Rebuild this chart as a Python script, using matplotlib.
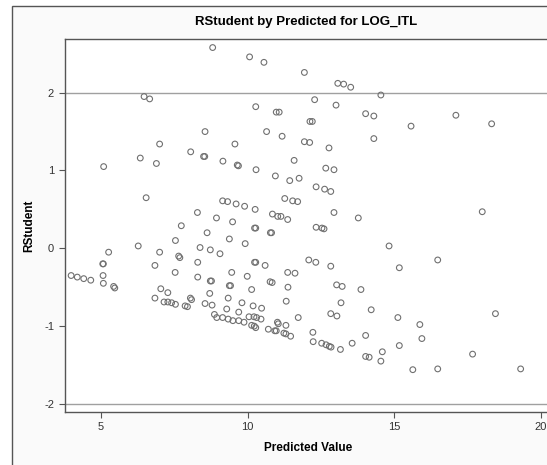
import matplotlib

matplotlib.use("Agg")
import matplotlib.pyplot as plt
from matplotlib.patches import Rectangle

plt.rcParams["font.family"] = ["Liberation Sans Narrow", "Liberation Sans", "DejaVu Sans"]

# predicted value / rstudent pairs
predicted = [
    8.81, 6.47, 6.66, 8.55, 7.00, 8.06, 8.50, 8.54, 6.34, 6.89, 5.09,
    10.07, 10.56, 11.94, 13.08, 13.28, 13.52, 14.55, 12.29, 10.28, 13.02,
    10.98, 11.08, 14.03, 14.31, 12.13, 12.21, 10.65, 11.18, 9.57, 11.94,
    12.12, 12.78, 14.31, 9.16, 9.65, 9.69, 10.29, 11.59, 12.67, 12.95,
    15.58, 17.11, 18.33,
    6.54, 8.29, 8.94, 7.74, 8.62, 7.54, 5.26, 6.27, 7.00, 8.38, 8.73, 9.06,
    7.65, 7.69, 5.06, 5.08, 6.84, 8.30, 7.53, 8.30, 5.07, 3.98, 4.19, 4.41,
    4.65, 5.08, 5.43, 5.47, 8.73, 8.77, 7.04,
    10.95, 11.44, 11.76, 12.34, 12.63, 12.84, 11.27, 11.54, 11.71, 9.15,
    9.32, 9.61, 9.90, 10.26, 10.85, 11.03, 11.14, 11.37, 12.95, 13.78, 9.49,
    10.24, 10.28, 10.78, 10.82, 12.34, 12.54, 12.61, 9.38, 9.92, 10.24,
    10.28, 10.60, 12.09, 12.33, 12.84, 9.46, 9.99, 11.37, 11.62, 9.38, 9.42,
    10.14, 10.77, 10.84, 11.38, 13.04, 13.23, 13.87,
    18.01, 14.83, 15.18, 16.49,
    7.28, 6.84, 7.15, 7.28, 7.41, 7.54, 7.87, 7.95, 8.05, 8.09, 8.71, 8.55,
    8.79, 8.87, 8.95,
    11.32, 9.34, 9.81, 10.19, 10.48, 9.29, 9.70, 9.15, 9.34, 9.50, 9.70,
    9.88, 10.05, 10.22, 10.31, 10.46, 10.14, 10.23, 10.28, 11.73, 11.02,
    11.05, 11.31, 10.71, 10.93, 10.98, 11.24, 11.31, 11.47, 12.84, 13.05,
    13.19, 12.23, 12.24, 12.53, 12.68, 12.79, 12.85, 13.17, 13.57, 14.03,
    14.03, 14.15, 14.22, 14.55,
    15.13, 15.88, 15.95, 15.18, 14.60, 15.64, 16.49, 17.68, 18.46, 19.32,
]
rstudent = [
    2.58, 1.95, 1.92, 1.50, 1.34, 1.24, 1.18, 1.18, 1.16, 1.09, 1.05,
    2.46, 2.39, 2.26, 2.12, 2.11, 2.07, 1.97, 1.91, 1.82, 1.84,
    1.75, 1.75, 1.73, 1.70, 1.63, 1.63, 1.50, 1.44, 1.34, 1.37,
    1.36, 1.29, 1.41, 1.12, 1.07, 1.06, 1.01, 1.13, 1.03, 1.01,
    1.57, 1.71, 1.60,
    0.65, 0.46, 0.39, 0.29, 0.20, 0.10, -0.05, 0.03, -0.05, 0.01, -0.02, -0.07,
    -0.10, -0.12, -0.20, -0.20, -0.22, -0.18, -0.31, -0.37, -0.35, -0.35, -0.37, -0.39,
    -0.41, -0.45, -0.49, -0.51, -0.42, -0.42, -0.52,
    0.93, 0.87, 0.90, 0.79, 0.76, 0.73, 0.64, 0.61, 0.60, 0.61,
    0.60, 0.57, 0.54, 0.50, 0.44, 0.41, 0.41, 0.37, 0.46, 0.39, 0.34,
    0.26, 0.26, 0.20, 0.20, 0.27, 0.26, 0.25, 0.12, 0.06, -0.18,
    -0.18, -0.22, -0.15, -0.18, -0.23, -0.31, -0.36, -0.31, -0.32, -0.48, -0.48,
    -0.53, -0.43, -0.44, -0.50, -0.47, -0.49, -0.53,
    0.47, 0.03, -0.25, -0.15,
    -0.57, -0.64, -0.69, -0.69, -0.70, -0.72, -0.74, -0.75, -0.64, -0.66, -0.58, -0.71,
    -0.73, -0.85, -0.89,
    -0.68, -0.64, -0.70, -0.74, -0.77, -0.78, -0.82, -0.89, -0.91, -0.93, -0.93,
    -0.95, -0.88, -0.88, -0.89, -0.91, -0.99, -1.00, -1.02, -0.89, -0.95,
    -0.97, -0.99, -1.04, -1.06, -1.06, -1.09, -1.10, -1.13, -0.84, -0.87,
    -0.70, -1.08, -1.20, -1.22, -1.24, -1.26, -1.27, -1.30, -1.22, -1.12,
    -1.39, -1.40, -0.79, -1.45,
    -0.89, -0.98, -1.16, -1.25, -1.33, -1.56, -1.55, -1.36, -0.84, -1.55,
]
ref_levels = [-2, 2]
x_ticks = [5, 10, 15, 20]
y_ticks = [-2, -1, 0, 1, 2]

W, H = 547, 465
fig = plt.figure(figsize=(W / 100, H / 100), dpi=100)
fig.patch.set_facecolor("white")

# outer graph frame (runs off the right and bottom edges)
frame = Rectangle((11.7 / W, -0.05), 1.1, 1 - 6 / H + 0.05, transform=fig.transFigure,
                  facecolor="#fafafa", edgecolor="#555555", linewidth=1.0, zorder=-5)
fig.patches.append(frame)

ax = fig.add_axes([64.5 / W, 1 - 411.7 / H, (552 - 64.5) / W, (411.7 - 39.3) / H])
ax.set_zorder(2)
ax.set_facecolor("white")
ax.set_xlim(3.754, 20.39)
ax.set_ylim(-2.100, 2.686)

for lv in ref_levels:
    ax.axhline(lv, color="#a0a0a0", lw=1.0, zorder=1)

ax.scatter(predicted, rstudent, s=17, facecolors="none", edgecolors="#707070",
           linewidths=0.8, zorder=3)

for sp in ax.spines.values():
    sp.set_color("#555555")
    sp.set_linewidth(1.0)

ax.set_xticks(x_ticks)
ax.set_yticks(y_ticks)
ax.tick_params(direction="out", length=4.5, width=0.8, color="#555555",
               labelsize=8, labelcolor="#333333", pad=3)
ax.set_xticklabels([str(v) for v in x_ticks])
ax.set_yticklabels([str(v) for v in y_ticks])

ax.set_xlabel("Predicted Value", fontsize=8.5, fontweight="bold", labelpad=7)
ax.set_ylabel("RStudent", fontsize=8.5, fontweight="bold", labelpad=6)

fig.text(306 / W, 1 - 22 / H, "RStudent by Predicted for LOG_ITL", ha="center",
         va="center", fontsize=9.5, fontweight="bold")

fig.savefig("out.png", dpi=100)
